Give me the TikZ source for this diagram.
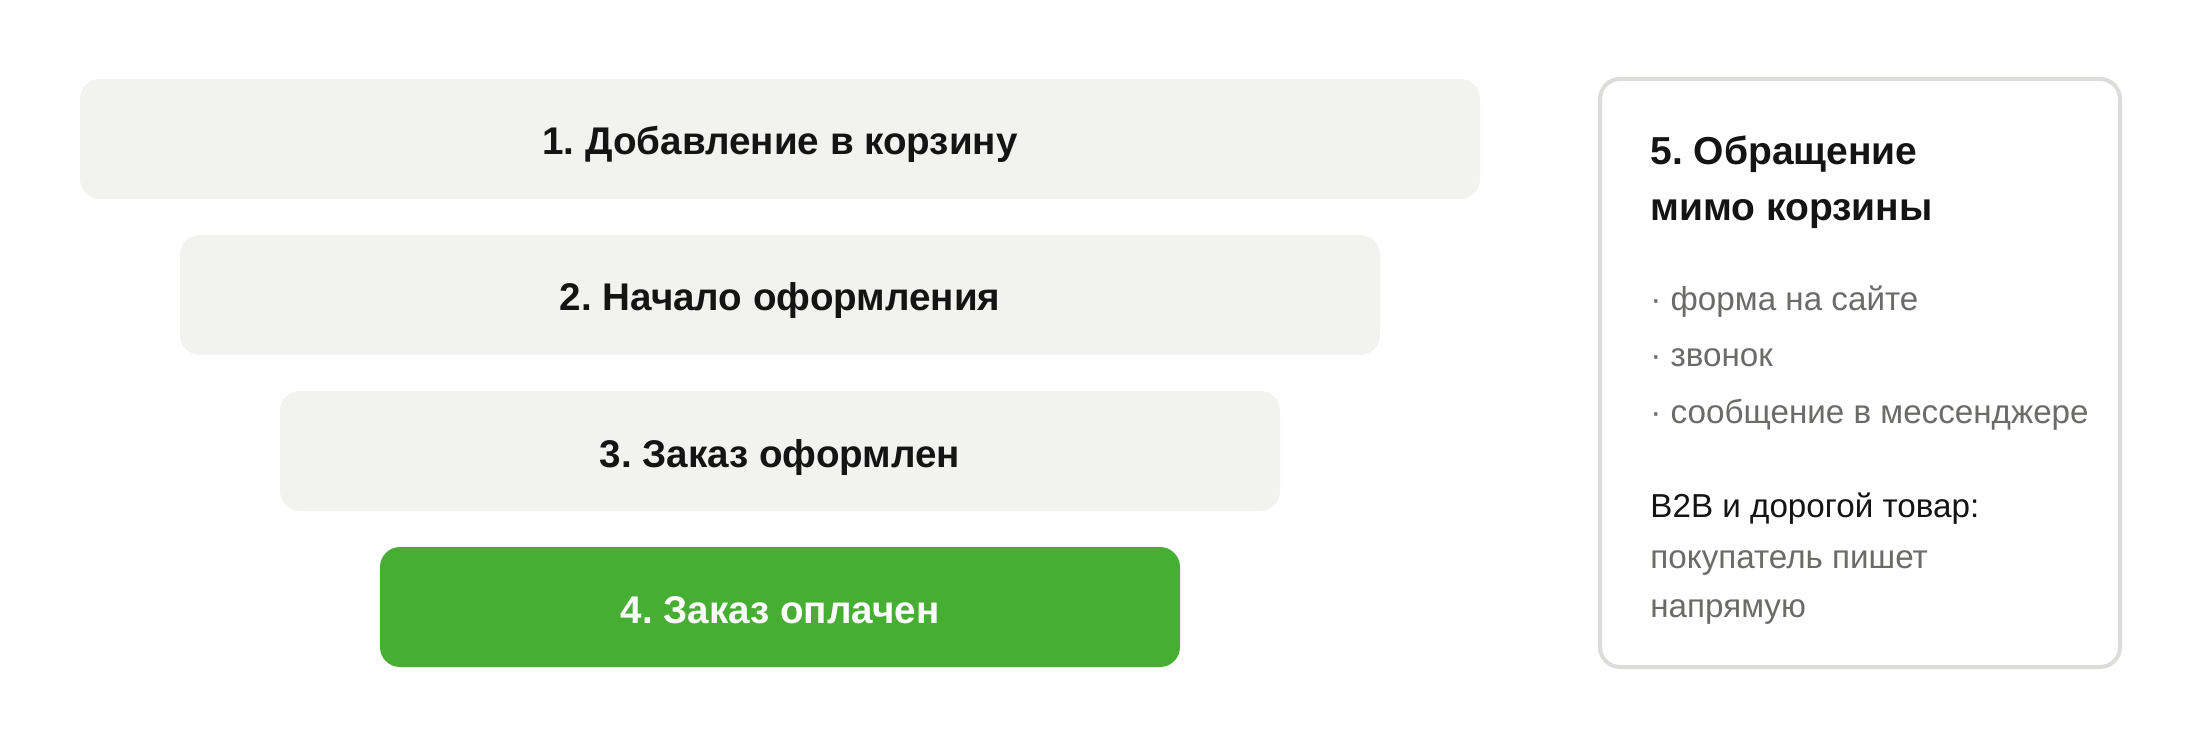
\documentclass[tikz,border=0pt]{standalone}
\usepackage{fontspec}
\setmainfont{Liberation Sans}
\frenchspacing
\definecolor{boxgray}{HTML}{F2F2F0}
\definecolor{okgreen}{HTML}{46AE33}
\definecolor{framegray}{HTML}{DCDCDA}
\definecolor{txtblack}{HTML}{141414}
\definecolor{txtgray}{HTML}{6B6B69}
\begin{document}
\begin{tikzpicture}[x=0.5pt,y=-0.5pt,
  stage/.style={fill=boxgray,rounded corners=10pt},
  stagegreen/.style={fill=okgreen,rounded corners=10pt},
  stagetext/.style={anchor=base,font=\fontsize{19.3}{24}\selectfont\bfseries,text=txtblack,inner sep=0pt},
  sidebox/.style={draw=framegray,line width=2pt,fill=white,rounded corners=10pt},
  sidetitle/.style={anchor=base west,font=\fontsize{19.5}{24}\selectfont\bfseries,text=txtblack,inner sep=0pt},
  sideitem/.style={anchor=base west,font=\fontsize{16.6}{20}\selectfont,text=txtgray,inner sep=0pt},
  sidehead/.style={anchor=base west,font=\fontsize{16.6}{20}\selectfont,text=txtblack,inner sep=0pt}]
\useasboundingbox (0,0) rectangle (2200,748);
% funnel stages
\path[stage] (80,79) rectangle (1480,199);
\path[stage] (180,235) rectangle (1380,355);
\path[stage] (280,391) rectangle (1280,511);
\path[stagegreen] (380,547) rectangle (1180,667);
\node[stagetext] (s1) at (780,155) {1. Добавление в корзину};
\node[stagetext] (s2) at (780,311) {2. Начало оформления};
\node[stagetext] (s3) at (780,467) {3. Заказ оформлен};
\node[stagetext,text=white] (s4) at (780,623) {4. Заказ оплачен};
% side box
\path[sidebox] (1600,79) rectangle (2120,667);
\node[sidetitle] (t1) at (1650,165) {5. Обращение};
\node[sidetitle] (t2) at (1650,221) {мимо корзины};
\node[sideitem] (b1) at (1650,311) {· форма на сайте};
\node[sideitem] (b2) at (1650,367) {· звонок};
\node[sideitem] (b3) at (1650,423) {· сообщение в мессенджере};
\node[sidehead] (h1) at (1650,517) {B2B и дорогой товар:};
\node[sideitem] (p1) at (1650,568) {покупатель пишет};
\node[sideitem] (p2) at (1650,617) {напрямую};
\end{tikzpicture}
\end{document}
